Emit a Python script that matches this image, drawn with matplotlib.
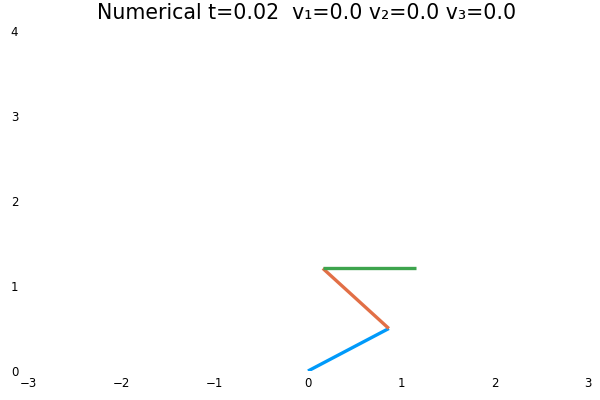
import matplotlib
matplotlib.use("Agg")
import matplotlib.pyplot as plt

# joint positions of the three-link pendulum
x_points = [0.0, 0.866, 0.159, 1.159]
y_points = [0.0, 0.5, 1.207, 1.207]
segment_colors = ["#009AFA", "#E26F46", "#3DA44D"]
x_ticks = [-3, -2, -1, 0, 1, 2, 3]
y_ticks = [0, 1, 2, 3, 4]
title = "Numerical t=0.02  v\u2081=0.0 v\u2082=0.0 v\u2083=0.0"

fig = plt.figure(figsize=(6, 4), dpi=100)
ax = fig.add_axes([28/600, 29/400, 560/600, 340/400])

for i in range(3):
    ax.plot(x_points[i:i+2], y_points[i:i+2], color=segment_colors[i],
            lw=2.4, solid_capstyle="butt")

ax.set_xlim(-3, 3)
ax.set_ylim(0, 4)
ax.set_xticks(x_ticks)
ax.set_yticks(y_ticks)
ax.set_xticklabels(["\u2212" + str(-t) if t < 0 else str(t) for t in x_ticks])
ax.set_yticklabels([str(t) for t in y_ticks])
for s in ax.spines.values():
    s.set_visible(False)
ax.tick_params(axis="both", length=0, labelsize=8.5, colors="black")
ax.tick_params(axis="x", pad=4)
ax.tick_params(axis="y", pad=7)

fig.text(306.5/600, 1 - 19/400, title, ha="center", va="baseline", fontsize=14.8)

fig.savefig("out.png", dpi=100)
